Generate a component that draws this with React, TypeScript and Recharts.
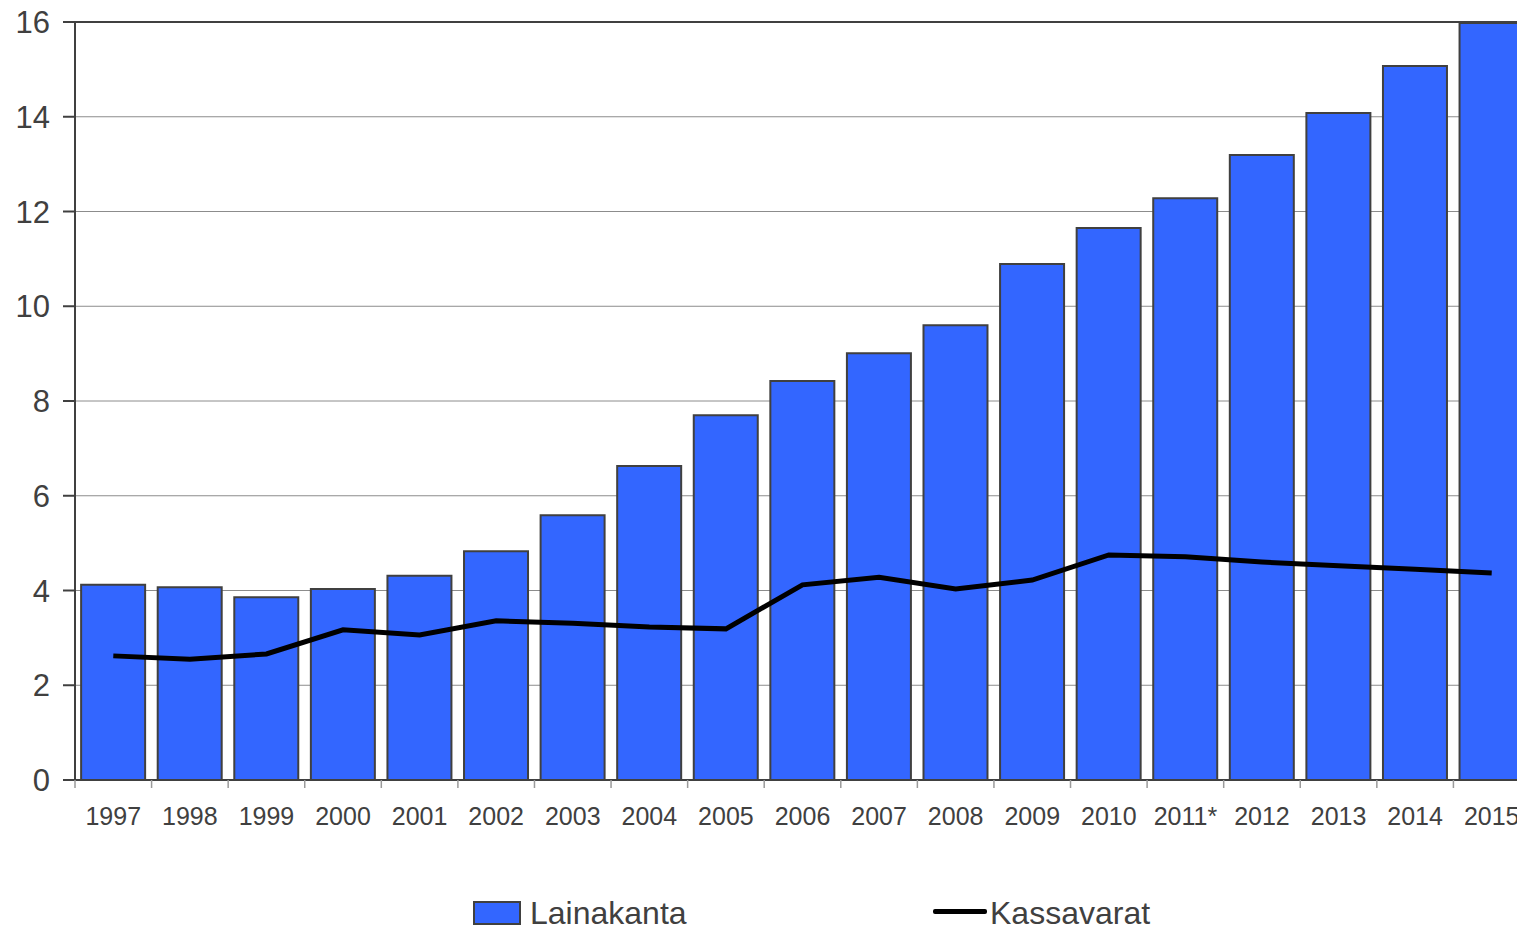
import { ComposedChart, Bar, Line, XAxis, YAxis, CartesianGrid, ReferenceLine } from 'recharts';

// Years on the category axis
const years = [
  '1997', '1998', '1999', '2000', '2001', '2002', '2003', '2004', '2005', '2006',
  '2007', '2008', '2009', '2010', '2011*', '2012', '2013', '2014', '2015',
];

// Lainakanta (bars)
const lainakanta = [
  4.12, 4.07, 3.86, 4.03, 4.31, 4.83, 5.59, 6.63, 7.7, 8.42,
  9.01, 9.6, 10.89, 11.65, 12.28, 13.19, 14.08, 15.07, 15.98,
];

// Kassavarat (line)
const kassavarat = [
  2.62, 2.55, 2.66, 3.17, 3.06, 3.36, 3.31, 3.23, 3.19, 4.12,
  4.28, 4.03, 4.22, 4.75, 4.71, 4.6, 4.52, 4.45, 4.37,
];

const yTicks = [0, 2, 4, 6, 8, 10, 12, 14, 16];

const data = years.map((year, i) => ({
  year,
  lainakanta: lainakanta[i],
  kassavarat: kassavarat[i],
}));

const CHART_W = 1545;
const CHART_H = 931;
const MARGIN = { top: 22, right: 15, left: 15, bottom: 0 };
const Y_AXIS_W = 60;
const BAND = (CHART_W - MARGIN.left - MARGIN.right - Y_AXIS_W) / years.length;

const TEXT = '#404040';
const BLUE = '#3366FF';

function YearTick(props: any) {
  const { x, y, payload } = props;
  const edge = x - BAND / 2;
  return (
    <g>
      <line x1={edge} x2={edge} y1={y} y2={y + 8} stroke="#9a9a9a" strokeWidth={1.5} />
      <text x={x} y={y + 45} textAnchor="middle" fill={TEXT} fontSize={25}>
        {payload.value}
      </text>
    </g>
  );
}

const legendText = {
  position: 'absolute' as const,
  top: 895,
  height: 36,
  fontSize: 32,
  lineHeight: '36px',
  whiteSpace: 'nowrap' as const,
  color: TEXT,
};

function LegendRow() {
  return (
    <>
      <div
        style={{
          position: 'absolute',
          left: 473,
          top: 901,
          width: 44,
          height: 20,
          background: BLUE,
          border: `2px solid ${TEXT}`,
        }}
      />
      <div style={{ ...legendText, left: 530 }}>Lainakanta</div>
      <div
        style={{
          position: 'absolute',
          left: 933,
          top: 909,
          width: 54,
          height: 5,
          background: '#000',
          borderRadius: 2,
        }}
      />
      <div style={{ ...legendText, left: 990 }}>Kassavarat</div>
    </>
  );
}

export default function App() {
  return (
    <div
      style={{
        position: 'absolute',
        left: 0,
        top: 0,
        width: 1517,
        height: 931,
        overflow: 'hidden',
        background: '#fff',
        fontFamily: '"Liberation Sans", Arial, sans-serif',
      }}
    >
      <ComposedChart width={CHART_W} height={CHART_H} data={data} margin={MARGIN} barCategoryGap="8%">
        <CartesianGrid vertical={false} stroke="#8c8c8c" strokeWidth={1} />
        <XAxis
          dataKey="year"
          height={CHART_H - MARGIN.top - 758}
          interval={0}
          tick={<YearTick />}
          tickLine={false}
          tickSize={0}
          tickMargin={0}
          axisLine={{ stroke: TEXT, strokeWidth: 2 }}
        />
        <YAxis
          width={Y_AXIS_W}
          domain={[0, 16]}
          ticks={yTicks}
          interval={0}
          tickSize={12}
          tickMargin={13}
          tick={{ fill: TEXT, fontSize: 31 }}
          tickLine={{ stroke: TEXT, strokeWidth: 2 }}
          axisLine={{ stroke: TEXT, strokeWidth: 2 }}
        />
        <ReferenceLine y={16} stroke={TEXT} strokeWidth={2} />
        <Bar dataKey="lainakanta" fill={BLUE} stroke={TEXT} strokeWidth={2} isAnimationActive={false} />
        <Line
          dataKey="kassavarat"
          type="linear"
          stroke="#000"
          strokeWidth={5}
          dot={false}
          activeDot={false}
          isAnimationActive={false}
        />
      </ComposedChart>
      <LegendRow />
    </div>
  );
}
